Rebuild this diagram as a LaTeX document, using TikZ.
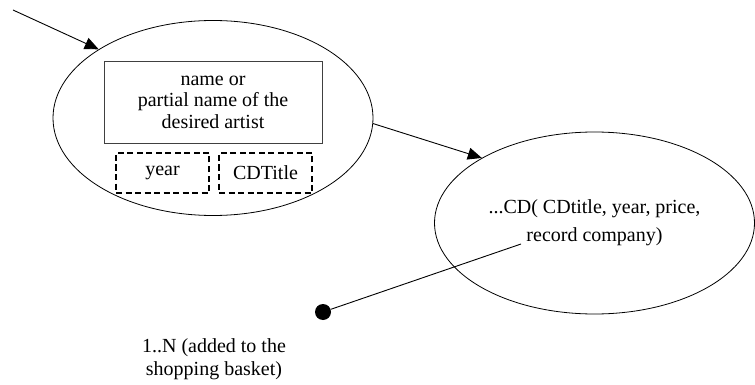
\documentclass[tikz,border=0pt]{standalone}
\usepackage{fontspec}
\setmainfont{Liberation Serif}
\usetikzlibrary{arrows.meta, shapes.geometric, positioning}

\tikzset{
  bubble/.style={draw, ellipse, line width=0.8pt, inner sep=0pt},
  fieldbox/.style={draw=black!75, line width=0.8pt, rectangle, align=center,
    font=\fontsize{20}{21.5}\selectfont},
  optbox/.style={draw, line width=1.4pt, dash pattern=on 6pt off 3.5pt,
    minimum width=93pt, minimum height=40pt, inner sep=0pt,
    font=\fontsize{20}{24}\selectfont},
  flow/.style={line width=0.9pt, -{Triangle[length=14pt,width=12pt]}}
}

\begin{document}
\begin{tikzpicture}[x=1pt, y=-1pt]
  \useasboundingbox (0,0) rectangle (755,385);

  % 1) the two query bubbles
  \node[bubble, minimum width=320pt, minimum height=195pt] (query) at (213,118) {};
  \node[bubble, minimum width=320pt, minimum height=182pt, align=center,
        font=\fontsize{20}{28}\selectfont] (cd) at (594.5,223)
        {...CD( CDtitle, year, price,\\record company)};

  % 2) what goes into the query
  \node[fieldbox, minimum width=218pt, minimum height=82pt] (artist) at (213,102)
        {name or\\partial name of the\\desired artist};
  \node[optbox] (year)    at (162.5,173) {year};
  \node[optbox] (cdtitle) at (265.5,173) {CDTitle};

  % 3) arrows
  \coordinate (entry) at (13,10);
  \draw[flow] (entry) -- (query.149);
  \draw[flow] (query.-2) -- (cd.150);

  % 4) basket end
  \node[circle, fill, minimum size=16pt, inner sep=0pt] (basket) at (323,312) {};
  \coordinate (cdlink) at (521,244);
  \draw[line width=0.9pt] (basket) -- (cdlink);
  \node[align=center, font=\fontsize{20}{23}\selectfont] (mult) at (214,359)
        {1..N (added to the\\shopping basket)};
\end{tikzpicture}
\end{document}
